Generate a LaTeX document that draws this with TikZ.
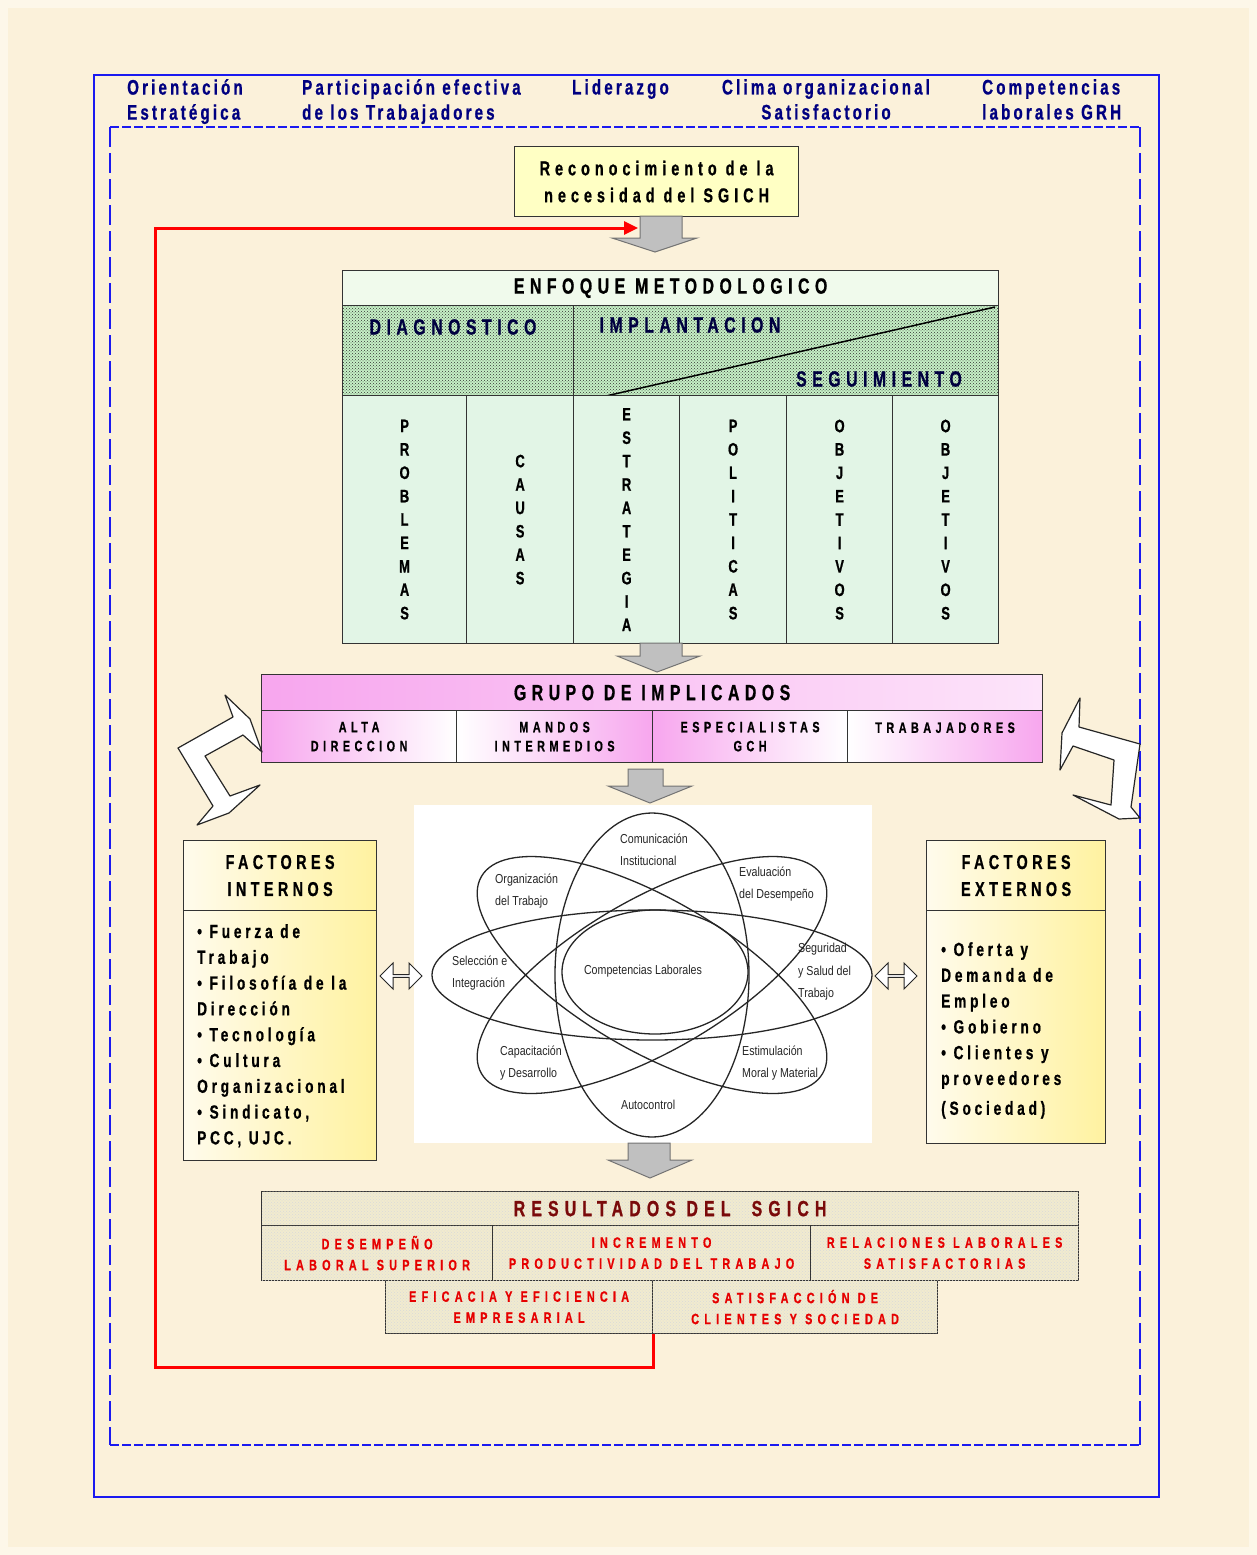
\documentclass[tikz,border=0pt]{standalone}
\usepackage{fontspec}
\setmainfont{Liberation Sans}
\newfontfamily\cf[FakeStretch=0.72, BoldFeatures={FakeBold=0.8}]{Liberation Sans}
\newfontfamily\nf[FakeStretch=0.82]{Liberation Sans}
\usetikzlibrary{patterns,shapes.arrows,arrows.meta}
\newcommand\lsp[1]{\addfontfeature{LetterSpace=#1}}
\newcommand\fsz[2]{\fontsize{#1}{#2}\selectfont}

\definecolor{bgc}{HTML}{FBF1DA}
\definecolor{navy}{HTML}{000080}
\definecolor{frameblue}{HTML}{1A1AF0}
\definecolor{recfill}{HTML}{FFFFC4}
\definecolor{arrgray}{HTML}{C0C0C0}
\definecolor{mint}{HTML}{E2F5E6}
\definecolor{lgreen}{HTML}{C6F0C6}
\definecolor{hdrgreen}{HTML}{F0FAEC}
\definecolor{pinkc}{HTML}{F7A6EE}
\definecolor{factA}{HTML}{FFFBEC}
\definecolor{factB}{HTML}{FFF2A0}
\definecolor{resfill}{HTML}{F1EBCF}
\definecolor{resred}{HTML}{E60000}
\definecolor{resdark}{HTML}{7A0A0A}

\begin{document}
\begin{tikzpicture}[x=1pt,y=-1pt,
  hdr/.style={text=navy, font=\cf\bfseries\fsz{21}{25}\lsp{15}, inner sep=0pt, anchor=north west, align=left},
  cell/.style={draw=black!80, line width=1.2pt, inner sep=0pt, anchor=north west, align=center},
  bigt/.style={font=\cf\bfseries\fsz{22}{26}\lsp{25}},
  midt/.style={font=\cf\bfseries\fsz{20}{27}\lsp{25}},
  smt/.style={font=\cf\bfseries\fsz{15}{19}\lsp{30}},
  vlet/.style={font=\cf\bfseries\fsz{18}{23.4}},
  redt/.style={text=resred, font=\cf\bfseries\fsz{15}{21}\lsp{35}},
  atomlbl/.style={font=\nf\fsz{13}{22.5}, text=black!85, align=left, inner sep=0pt, anchor=west},
  listt/.style={font=\cf\bfseries\fsz{19}{25.8}\lsp{20}, align=left, inner sep=0pt, anchor=north west},
  garrow/.style={fill=arrgray, draw=black!55, line width=1pt},
  bentarrow/.style={fill=white, draw=black!85, line width=1.2pt, line join=round},
  orbit/.style={draw=black!85, line width=1.3pt},
  dbl/.style={double arrow, draw=black!85, fill=white, line width=1pt, minimum width=26pt, minimum height=42pt, double arrow head extend=4pt, inner sep=0pt},
]
% page
\fill[white!40!bgc] (0,0) rectangle (1257,1555);
\fill[bgc] (8,8) rectangle (1249,1547);
\useasboundingbox (0,0) rectangle (1257,1555);

% frames
\draw[frameblue, line width=1.5pt] (94,75) rectangle (1159,1497);
\draw[frameblue, line width=2.5pt, dash pattern=on 9pt off 3pt] (110,127) -- (1140,127);
\draw[frameblue, line width=2.5pt, dash pattern=on 9pt off 3pt] (110,1445) -- (1140,1445);
\draw[frameblue, line width=1.5pt, dash pattern=on 20pt off 6pt] (110,127) -- (110,1445);
\draw[frameblue, line width=2.5pt, dash pattern=on 20pt off 6pt] (1140,127) -- (1140,1445);

% column headings
\node[hdr] (h1) at (127,79) {Orientación\\Estratégica};
\node[hdr] (h2) at (302,79) {Participación efectiva\\de los Trabajadores};
\node[hdr] (h3) at (572,79) {Liderazgo};
\node[hdr, anchor=north, align=center] (h4) at (826,79) {Clima organizacional\\Satisfactorio};
\node[hdr] (h5) at (982,79) {Competencias\\laborales GRH};

% recognition box
\node[cell, fill=recfill, minimum width=284pt, minimum height=70pt, midt] (rec) at (514,146) {Reconocimiento de la\\necesidad del SGICH};
\draw[garrow] (640,216) -- (682,216) -- (682,238) -- (697,238) -- (655,252) -- (612,238) -- (640,238) -- cycle;

% methodological approach
\node[cell, fill=hdrgreen, minimum width=656pt, minimum height=35pt, bigt] (enf) at (342,270) {ENFOQUE METODOLOGICO};
\fill[lgreen] (342,305) rectangle (998,395);
\fill[pattern=crosshatch dots, pattern color=black!80] (342,305) rectangle (998,395);
\node[cell, minimum width=231pt, minimum height=90pt] (diag) at (342,305) {};
\node[cell, minimum width=425pt, minimum height=90pt] (impl) at (573,305) {};
\draw[line width=1.5pt] (impl.south west) ++(32,0) coordinate (dA) -- (995,307) coordinate (dB);
\node[bigt, text=black!75!blue, inner sep=0pt] (tdiag) at (453,327) {DIAGNOSTICO};
\node[bigt, text=black!75!blue, inner sep=0pt] (timpl) at (690,325) {IMPLANTACION};
\node[bigt, text=black!75!blue, inner sep=0pt] (tseg) at (879,379) {SEGUIMIENTO};

\node[cell, fill=mint, minimum width=124pt, minimum height=248pt, vlet] (c1) at (342,395) {P\\R\\O\\B\\L\\E\\M\\A\\S};
\node[cell, fill=mint, minimum width=107pt, minimum height=248pt, vlet] (c2) at (466,395) {C\\A\\U\\S\\A\\S};
\node[cell, fill=mint, minimum width=106pt, minimum height=248pt, vlet] (c3) at (573,395) {E\\S\\T\\R\\A\\T\\E\\G\\I\\A};
\node[cell, fill=mint, minimum width=107pt, minimum height=248pt, vlet] (c4) at (679,395) {P\\O\\L\\I\\T\\I\\C\\A\\S};
\node[cell, fill=mint, minimum width=106pt, minimum height=248pt, vlet] (c5) at (786,395) {O\\B\\J\\E\\T\\I\\V\\O\\S};
\node[cell, fill=mint, minimum width=106pt, minimum height=248pt, vlet] (c6) at (892,395) {O\\B\\J\\E\\T\\I\\V\\O\\S};
\draw[garrow] (640,643) -- (682,643) -- (682,656) -- (700,656) -- (657,672) -- (617,656) -- (640,656) -- cycle;

% people involved
\node[cell, left color=pinkc, right color=white!70!pinkc, minimum width=781pt, minimum height=36pt, bigt] (grp) at (261,674) {GRUPO DE IMPLICADOS};
\node[cell, left color=pinkc, right color=white, minimum width=195pt, minimum height=52pt, smt] (g1) at (261,710) {ALTA\\DIRECCION};
\node[cell, left color=white, right color=pinkc, minimum width=196pt, minimum height=52pt, smt] (g2) at (456,710) {MANDOS\\INTERMEDIOS};
\node[cell, left color=pinkc, right color=white, minimum width=195pt, minimum height=52pt, smt] (g3) at (652,710) {ESPECIALISTAS\\GCH};
\node[cell, left color=white, right color=pinkc, minimum width=195pt, minimum height=52pt, smt, text depth=18pt] (g4) at (847,710) {TRABAJADORES};
\draw[garrow] (628,769) -- (663,769) -- (663,786) -- (692,786) -- (650,803) -- (608,786) -- (628,786) -- cycle;

% bent arrows linking the group with the factor boxes
\draw[bentarrow] (225,695) -- (250,719) -- (262,752) -- (243,735) -- (205,756) -- (230,796)
  -- (260,785) -- (229,813) -- (197,825) -- (213,806) -- (178,748) -- (233,717) -- cycle;
\draw[bentarrow] (1080,698) -- (1062,733) -- (1060,770) -- (1073,746) -- (1114,760) -- (1111,805)
  -- (1073,795) -- (1119,819) -- (1140,818) -- (1131,807) -- (1140,744) -- (1079,727) -- cycle;

% internal factors
\node[cell, left color=factA, right color=factB, minimum width=193pt, minimum height=70pt, font=\cf\bfseries\fsz{20}{27}\lsp{22}] (fih) at (183,840) {FACTORES\\INTERNOS};
\node[cell, left color=factA, right color=factB, minimum width=193pt, minimum height=250pt] (fib) at (183,910) {};
\node[listt] (fit) at (197,924) {• Fuerza de\\Trabajo\\• Filosofía de la\\Dirección\\• Tecnología\\• Cultura\\Organizacional\\• Sindicato,\\PCC, UJC.};

% external factors
\node[cell, left color=factA, right color=factB, minimum width=179pt, minimum height=70pt, font=\cf\bfseries\fsz{20}{27}\lsp{22}] (feh) at (926,840) {FACTORES\\EXTERNOS};
\node[cell, left color=factA, right color=factB, minimum width=179pt, minimum height=233pt] (feb) at (926,910) {};
\node[listt] (fet) at (941,942) {• Oferta y\\Demanda de\\Empleo\\• Gobierno\\• Clientes y\\proveedores\\[4pt](Sociedad)};

% competencies orbit diagram
\node[fill=white, minimum width=458pt, minimum height=338pt, anchor=north west, inner sep=0pt] (atom) at (414,805) {};
\coordinate (atomc) at (652,975);
\draw[orbit] (atomc) ellipse [x radius=220, y radius=65];
\draw[orbit] (atomc) ellipse [x radius=97, y radius=162];
\draw[orbit] (655,972) ellipse [x radius=93, y radius=62];
\draw[orbit, rotate around={-30:(atomc)}] (atomc) ellipse [x radius=197, y radius=76];
\draw[orbit, rotate around={30:(atomc)}] (atomc) ellipse [x radius=197, y radius=76];
\node[atomlbl] (a1) at (620,850) {Comunicación\\Institucional};
\node[atomlbl] (a2) at (495,891) {Organización\\del Trabajo};
\node[atomlbl] (a3) at (739,884) {Evaluación\\del Desempeño};
\node[atomlbl] (a4) at (452,973) {Selección e\\Integración};
\node[atomlbl, anchor=center] (a5) at (643,971) {Competencias Laborales};
\node[atomlbl] (a6) at (798,972) {Seguridad\\y Salud del\\Trabajo};
\node[atomlbl] (a7) at (500,1063) {Capacitación\\y Desarrollo};
\node[atomlbl] (a8) at (742,1063) {Estimulación\\Moral y Material};
\node[atomlbl] (a9) at (621,1105) {Autocontrol};

\node[dbl] (dblL) at (401,976) {};
\node[dbl] (dblR) at (896,976) {};
\draw[garrow] (628,1143) -- (670,1143) -- (670,1160) -- (692,1160) -- (650,1178) -- (608,1160) -- (628,1160) -- cycle;

% results
\tikzset{rescell/.style={cell, fill=resfill, postaction={pattern=crosshatch dots, pattern color=black!15}}}
\node[rescell, minimum width=817pt, minimum height=34pt, text=resdark, font=\cf\bfseries\fsz{22}{26}\lsp{28}] (res) at (261,1191) {RESULTADOS DEL \ SGICH};
\node[rescell, minimum width=231pt, minimum height=55pt, redt] (r1) at (261,1225) {DESEMPEÑO\\LABORAL SUPERIOR};
\node[rescell, minimum width=318pt, minimum height=55pt, redt] (r2) at (492,1225) {INCREMENTO\\PRODUCTIVIDAD DEL TRABAJO};
\node[rescell, minimum width=268pt, minimum height=55pt, redt] (r3) at (810,1225) {RELACIONES LABORALES\\SATISFACTORIAS};
\node[rescell, minimum width=267pt, minimum height=53pt, redt] (r4) at (385,1280) {EFICACIA Y EFICIENCIA\\EMPRESARIAL};
\node[rescell, minimum width=285pt, minimum height=53pt, redt] (r5) at (652,1280) {SATISFACCIÓN DE\\CLIENTES Y SOCIEDAD};

% feedback loop
\coordinate (lbot) at (155,1367);
\coordinate (ltop) at (155,228);
\coordinate (redend) at (638,228);
\draw[red, line width=3pt, -{Triangle[length=14pt,width=13pt]}] (r4.south east) |- (lbot) -- (ltop) -- (redend);
\end{tikzpicture}
\end{document}
